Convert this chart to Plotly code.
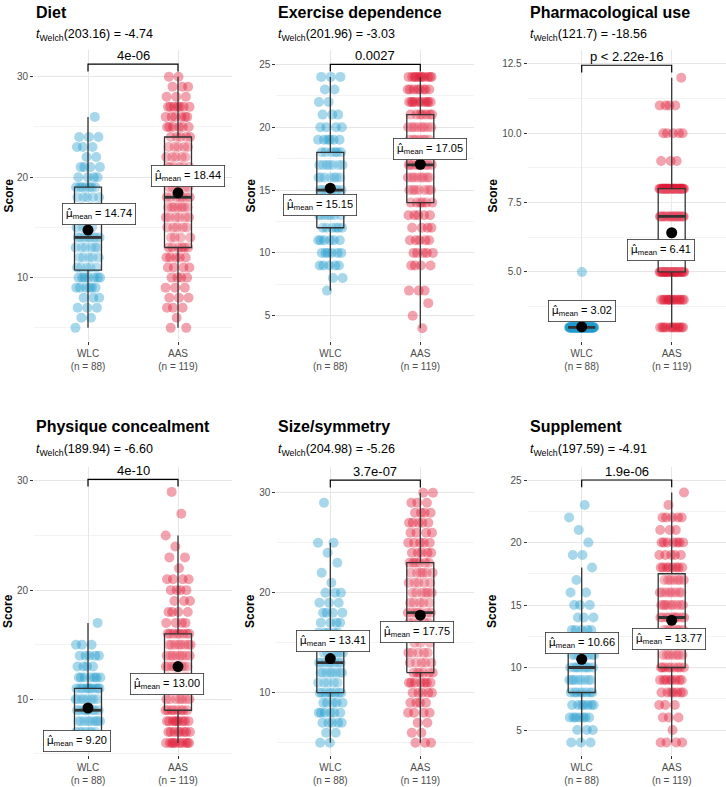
import numpy as np
import plotly.graph_objects as go

# ---------------- data ----------------
panel_titles = ["Diet", "Exercise dependence", "Pharmacological use",
                "Physique concealment", "Size/symmetry", "Supplement"]
group_labels = ["WLC", "AAS"]
welch_df = ["203.16", "201.96", "121.7", "189.94", "204.98", "197.59"]
welch_t = ["-4.74", "-3.03", "-18.56", "-6.60", "-5.26", "-4.91"]
p_labels = ["4e-06", "0.0027", "p < 2.22e-16", "4e-10", "3.7e-07", "1.9e-06"]

diet_wlc_scores = [5, 6, 7, 8, 9, 10, 11, 12, 13, 14, 15, 16, 17, 18, 19, 20, 21, 22, 23, 24, 26]
diet_wlc_counts = [1, 2, 3, 3, 6, 7, 5, 5, 6, 8, 4, 5, 4, 5, 7, 4, 4, 2, 3, 3, 1]
diet_aas_scores = [5, 6, 7, 8, 9, 10, 11, 12, 13, 14, 15, 16, 17, 18, 19, 20, 21, 22, 23, 24, 25, 26, 27, 28, 29, 30]
diet_aas_counts = [2, 1, 3, 3, 3, 4, 4, 5, 6, 4, 5, 6, 7, 7, 5, 6, 6, 5, 5, 5, 6, 6, 7, 3, 3, 2]

exer_wlc_scores = [7, 8, 9, 10, 11, 12, 13, 14, 15, 16, 17, 18, 19, 20, 21, 22, 23, 24]
exer_wlc_counts = [1, 2, 5, 6, 6, 6, 7, 7, 8, 7, 7, 6, 6, 4, 3, 2, 2, 3]
exer_aas_scores = [4, 5, 6, 7, 9, 10, 11, 12, 13, 14, 15, 16, 17, 18, 19, 20, 21, 22, 23, 24]
exer_aas_counts = [1, 1, 1, 3, 4, 5, 5, 4, 5, 6, 7, 8, 10, 8, 7, 8, 7, 10, 8, 11]

pharm_wlc_scores = [3, 5]
pharm_wlc_counts = [87, 1]
pharm_aas_scores = [3, 4, 5, 6, 7, 8, 9, 10, 11, 12]
pharm_aas_counts = [12, 14, 24, 5, 20, 31, 3, 5, 4, 1]

phys_wlc_scores = [6, 7, 8, 9, 10, 11, 12, 13, 14, 15, 17]
phys_wlc_counts = [25, 7, 9, 9, 8, 10, 7, 4, 5, 3, 1]
phys_aas_scores = [6, 7, 8, 9, 10, 11, 12, 13, 14, 15, 16, 17, 18, 19, 20, 21, 22, 23, 24, 25, 27, 29]
phys_aas_counts = [10, 8, 9, 8, 7, 9, 10, 8, 8, 8, 8, 4, 4, 3, 4, 4, 1, 2, 1, 1, 1, 1]

size_wlc_scores = [5, 6, 7, 8, 9, 10, 11, 12, 13, 14, 15, 16, 17, 18, 19, 20, 21, 22, 23, 24, 25, 29]
size_wlc_counts = [2, 2, 5, 6, 5, 8, 5, 8, 8, 6, 7, 5, 4, 4, 3, 3, 1, 1, 1, 1, 2, 1]
size_aas_scores = [5, 6, 7, 8, 9, 10, 11, 12, 13, 14, 15, 16, 17, 18, 19, 20, 21, 22, 23, 24, 25, 26, 27, 28, 29, 30]
size_aas_counts = [3, 2, 2, 4, 4, 5, 7, 6, 5, 5, 3, 5, 5, 7, 5, 6, 5, 6, 6, 5, 5, 4, 5, 4, 3, 2]

supp_wlc_scores = [4, 5, 6, 7, 8, 9, 10, 11, 12, 13, 14, 15, 16, 17, 18, 19, 20, 21, 22, 23]
supp_wlc_counts = [3, 3, 7, 7, 8, 9, 10, 8, 12, 5, 3, 3, 2, 1, 1, 2, 1, 1, 1, 1]
supp_aas_scores = [4, 5, 6, 7, 8, 9, 10, 11, 12, 13, 14, 15, 16, 17, 18, 19, 20, 21, 22, 23, 24]
supp_aas_counts = [4, 1, 3, 3, 7, 8, 9, 7, 6, 7, 10, 9, 8, 7, 8, 5, 7, 3, 5, 1, 1]

wlc_data = [(diet_wlc_scores, diet_wlc_counts), (exer_wlc_scores, exer_wlc_counts),
            (pharm_wlc_scores, pharm_wlc_counts), (phys_wlc_scores, phys_wlc_counts),
            (size_wlc_scores, size_wlc_counts), (supp_wlc_scores, supp_wlc_counts)]
aas_data = [(diet_aas_scores, diet_aas_counts), (exer_aas_scores, exer_aas_counts),
            (pharm_aas_scores, pharm_aas_counts), (phys_aas_scores, phys_aas_counts),
            (size_aas_scores, size_aas_counts), (supp_aas_scores, supp_aas_counts)]

# ---------------- style / layout ----------------
W, H = 726, 787
FONT = "Liberation Sans, Arial, Helvetica, sans-serif"
group_colors = ["rgb(33,155,205)", "rgb(222,24,52)"]
grid_major = "#E6E6E6"
grid_minor = "#F3F3F3"
col_px = [(34, 232), (276.3, 474.3), (527.7, 725.7)]
row_px = [(50, 341), (467, 755)]
title_px = [12, 427]
subtitle_px = [34.5, 450]
score_px = [8, 250, 492]
y_ranges = [[3.69, 32.66], [2.99, 26.14], [2.51, 13.0],
            [4.9, 31.28], [3.77, 32.57], [3.0, 26.04]]
y_dtick = [10, 5, 2.5, 10, 10, 5]
y_minor = [5, 2.5, 1.25, 5, 5, 2.5]
y_fmt = ["", "", ".1f", "", "", ""]
# pixel shifts of the mean labels relative to mean points (wlc, aas)
label_shift = [((11, 16), (10, 17)), ((-10, -17), (10, 15.5)), ((0, 15.6), (-11, -17)),
               ((-11, -33), (-11, -17)), ((3, 17.5), (-3, -17)), ((0, 16.6), (-3, -19))]
BOX_W = 0.3
JIT = 0.14
MU_HAT = '<span style="font-family:DejaVu Sans">\u03bc\u0302</span>'


def px_x(x):
    return x / W


def px_y(y):
    return 1 - y / H


fig = go.Figure()
annotations = []
layout_axes = {}

for p in range(6):
    r, c = divmod(p, 3)
    sfx = "" if p == 0 else str(p + 1)
    xa, ya = "x" + sfx, "y" + sfx
    groups = []
    for g, (sc, ct) in enumerate([wlc_data[p], aas_data[p]]):
        groups.append(np.repeat(np.array(sc, dtype=float), ct))
    allv = np.concatenate(groups)

    # jittered points (deterministic low-discrepancy horizontal offsets)
    for g, vals in enumerate(groups):
        k = np.arange(len(vals))
        off = ((k * 0.6180339887 + 0.37 * p + 0.21 * g) % 1.0 - 0.5) * 2 * JIT
        fig.add_trace(go.Scatter(
            x=(g + 1) + off, y=vals, mode="markers", xaxis=xa, yaxis=ya,
            marker=dict(size=10, color=group_colors[g], opacity=0.4, line=dict(width=0)),
            hoverinfo="skip", showlegend=False))

    # boxplots
    means = []
    for g, vals in enumerate(groups):
        cx = g + 1
        q1, med, q3 = np.percentile(vals, [25, 50, 75])
        iqr = q3 - q1
        lo = vals[vals >= q1 - 1.5 * iqr].min()
        hi = vals[vals <= q3 + 1.5 * iqr].max()
        means.append(vals.mean())
        fig.add_trace(go.Scatter(
            x=[cx, cx, None, cx, cx], y=[q3, hi, None, q1, lo], mode="lines",
            xaxis=xa, yaxis=ya, line=dict(color="#333333", width=1.3),
            hoverinfo="skip", showlegend=False))
        fig.add_trace(go.Scatter(
            x=[cx - BOX_W / 2, cx + BOX_W / 2, cx + BOX_W / 2, cx - BOX_W / 2, cx - BOX_W / 2],
            y=[q1, q1, q3, q3, q1], mode="lines", fill="toself",
            fillcolor="rgba(255,255,255,0.2)", xaxis=xa, yaxis=ya,
            line=dict(color="#333333", width=1.3), hoverinfo="skip", showlegend=False))
        fig.add_trace(go.Scatter(
            x=[cx - BOX_W / 2, cx + BOX_W / 2], y=[med, med], mode="lines",
            xaxis=xa, yaxis=ya, line=dict(color="#333333", width=2.8),
            hoverinfo="skip", showlegend=False))

    # significance bracket
    span = allv.max() - allv.min()
    top = allv.max() + 0.05 * span
    tip = 0.025 * (y_ranges[p][1] - y_ranges[p][0])
    fig.add_trace(go.Scatter(
        x=[1, 1, 2, 2], y=[top - tip, top, top, top - tip], mode="lines",
        xaxis=xa, yaxis=ya, line=dict(color="black", width=1.2),
        hoverinfo="skip", showlegend=False))
    annotations.append(dict(
        x=1.5, y=top, xref=xa, yref=ya, text=p_labels[p], showarrow=False,
        xanchor="center", yanchor="bottom", yshift=-1,
        font=dict(family=FONT, size=13, color="black")))

    # mean points
    fig.add_trace(go.Scatter(
        x=[1, 2], y=means, mode="markers", xaxis=xa, yaxis=ya,
        marker=dict(size=11, color="black", line=dict(width=0)),
        hoverinfo="skip", showlegend=False))
    for g in range(2):
        dx, dy = label_shift[p][g]
        annotations.append(dict(
            x=g + 1, y=means[g], xref=xa, yref=ya,
            text=MU_HAT + "<sub>mean</sub> = %.2f" % means[g],
            showarrow=False, xanchor="center", yanchor="middle",
            xshift=dx, yshift=dy, bgcolor="white", bordercolor="#333333",
            borderwidth=0.8, borderpad=3,
            font=dict(family=FONT, size=11, color="black")))

    # axes
    x0, x1 = col_px[c]
    y0, y1 = row_px[r]
    layout_axes["xaxis" + sfx] = dict(
        domain=[px_x(x0), px_x(x1)], anchor=ya, range=[0.4, 2.6],
        tickmode="array", tickvals=[1, 2],
        ticktext=["%s<br>(n = %d)" % (group_labels[g], len(groups[g])) for g in range(2)],
        showgrid=True, gridcolor=grid_major, gridwidth=1, zeroline=False,
        showline=False, ticks="outside", ticklen=3, tickcolor="#333333",
        tickfont=dict(family=FONT, size=10, color="#4D4D4D"), fixedrange=True)
    ydict = dict(
        domain=[px_y(y1), px_y(y0)], anchor=xa, range=y_ranges[p],
        tick0=0, dtick=y_dtick[p], showgrid=True, gridcolor=grid_major, gridwidth=1,
        zeroline=False, showline=False, ticks="outside", ticklen=3,
        tickcolor="#333333", tickfont=dict(family=FONT, size=10, color="#4D4D4D"),
        minor=dict(dtick=y_minor[p], tick0=0, showgrid=True, gridcolor=grid_minor,
                   gridwidth=1, ticks=""),
        fixedrange=True)
    if y_fmt[p]:
        ydict["tickformat"] = y_fmt[p]
    layout_axes["yaxis" + sfx] = ydict

    # titles
    annotations.append(dict(
        x=px_x(x0), y=px_y(title_px[r]), xref="paper", yref="paper",
        text="<b>%s</b>" % panel_titles[p], showarrow=False,
        xanchor="left", yanchor="middle", font=dict(family=FONT, size=16, color="black")))
    annotations.append(dict(
        x=px_x(x0), y=px_y(subtitle_px[r]), xref="paper", yref="paper",
        text="<i>t</i><sub>Welch</sub>(%s) = %s" % (welch_df[p], welch_t[p]),
        showarrow=False, xanchor="left", yanchor="middle",
        font=dict(family=FONT, size=12.5, color="black")))
    annotations.append(dict(
        x=px_x(score_px[c]), y=px_y((y0 + y1) / 2), xref="paper", yref="paper",
        text="<b>Score</b>", textangle=-90, showarrow=False,
        xanchor="center", yanchor="middle", font=dict(family=FONT, size=12, color="black")))

fig.update_layout(
    width=W, height=H, margin=dict(l=0, r=0, t=0, b=0),
    paper_bgcolor="white", plot_bgcolor="white",
    font=dict(family=FONT), showlegend=False,
    annotations=annotations, **layout_axes)

fig.write_html("out.html", config={"displayModeBar": False},
               post_script="document.body.style.margin='0';")
